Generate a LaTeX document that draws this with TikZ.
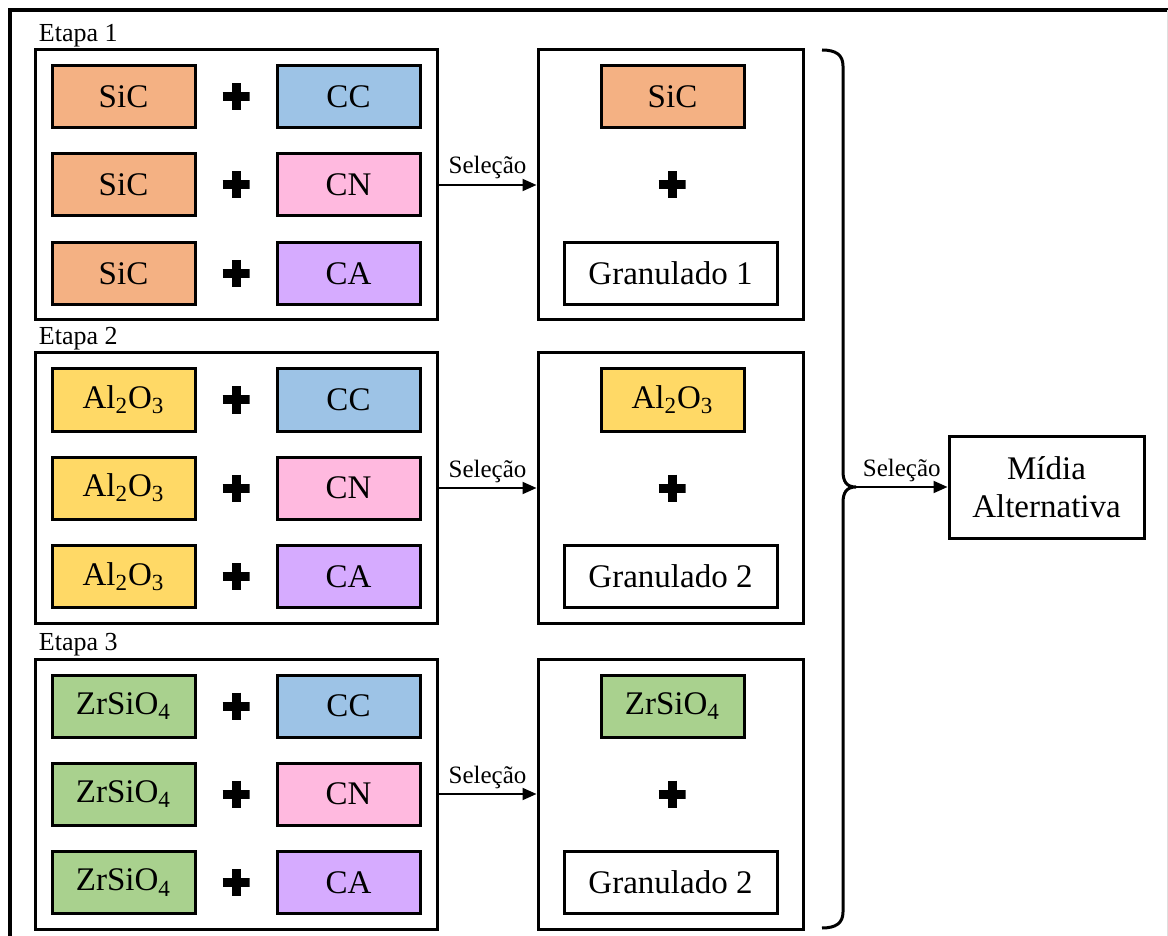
\documentclass[tikz,border=0pt]{standalone}
\usepackage{fontspec}
\setmainfont{Liberation Serif}
\usetikzlibrary{arrows.meta}

\definecolor{sicor}{HTML}{F4B183}
\definecolor{alcor}{HTML}{FFD966}
\definecolor{zrcor}{HTML}{A9D18E}
\definecolor{corCC}{HTML}{9DC3E6}
\definecolor{corCN}{HTML}{FFB9DF}
\definecolor{corCA}{HTML}{D6ABFF}

\begin{document}
\begin{tikzpicture}[x=0.5pt, y=-0.5pt,
    quadro/.style={draw, line width=1.5pt, minimum width=201pt, minimum height=135pt, inner sep=0pt},
    resultado/.style={quadro, minimum width=132.5pt},
    caixa/.style={draw, line width=1.5pt, minimum width=71.5pt, minimum height=31pt,
                  inner sep=0pt, font=\fontsize{16.5}{19}\selectfont},
    granulado/.style={caixa, minimum width=106.5pt},
    mais/.style={minimum size=13.5pt, inner sep=0pt, path picture={
        \draw[line width=4.5pt] (path picture bounding box.north) -- (path picture bounding box.south);
        \draw[line width=4.5pt] (path picture bounding box.west) -- (path picture bounding box.east);}},
    rotulo/.style={font=\fontsize{12.5}{14}\selectfont, inner sep=0pt},
    seta/.style={line width=1pt, -{Triangle[length=7pt, width=6pt]}}]

  \useasboundingbox (0,0) rectangle (1168,936);

  % moldura
  \draw[line width=2pt] (10,936) -- (10,10) -- (1168,10);
  \draw[gray!25, line width=0.5pt] (1167,10) -- (1167,936);

  % etapas
  \foreach \etapa/\topo/\mat/\cor/\gran in {1/50/SiC/sicor/1,
      2/353/{Al\textsubscript{2}O\textsubscript{3}}/alcor/2,
      3/659/{ZrSiO\textsubscript{4}}/zrcor/2}{
    \node[quadro] (g\etapa) at (236,\topo+135) {};
    \node[rotulo, font=\fontsize{13}{15}\selectfont, anchor=base west] (e\etapa)
      at ([xshift=2.5pt, yshift=3.5pt]g\etapa.north west) {Etapa \etapa};
    \foreach \linha/\dy/\sig in {1/47/CC, 2/135/CN, 3/223.5/CA}{
      \node[caixa, fill=\cor] (m\etapa\linha) at (123.5,\topo+\dy) {\mat};
      \node[mais] (p\etapa\linha) at (236,\topo+\dy) {};
      \node[caixa, fill=cor\sig] (c\etapa\linha) at (348.5,\topo+\dy) {\sig};
    }
    \node[resultado] (r\etapa) at (670.5,\topo+135) {};
    \node[caixa, fill=\cor] (ra\etapa) at (672.5,\topo+47) {\mat};
    \node[mais] (rp\etapa) at (672,\topo+135) {};
    \node[granulado] (rg\etapa) at (670.5,\topo+223.5) {Granulado \gran};
    \draw[seta] (g\etapa.east) -- (r\etapa.west)
      node[rotulo, midway, anchor=base, yshift=5.5pt] {Seleção};
  }

  % chave
  \draw[line width=1.5pt] (822,50) .. controls (836,50) and (843,55) .. (843,66)
    -- (843,471) .. controls (843,481) and (846,487) .. (856,487)
    .. controls (846,487) and (843,493) .. (843,503)
    -- (843,912) .. controls (843,923) and (836,928) .. (822,928);
  \coordinate (bt) at (856,487);

  \node[caixa, minimum width=97.5pt, minimum height=51pt, align=center] (midia)
    at (1046.5,487) {Mídia\\Alternativa};
  \draw[seta] (bt) -- (midia.west)
    node[rotulo, midway, anchor=base, yshift=5.5pt] {Seleção};
\end{tikzpicture}
\end{document}
